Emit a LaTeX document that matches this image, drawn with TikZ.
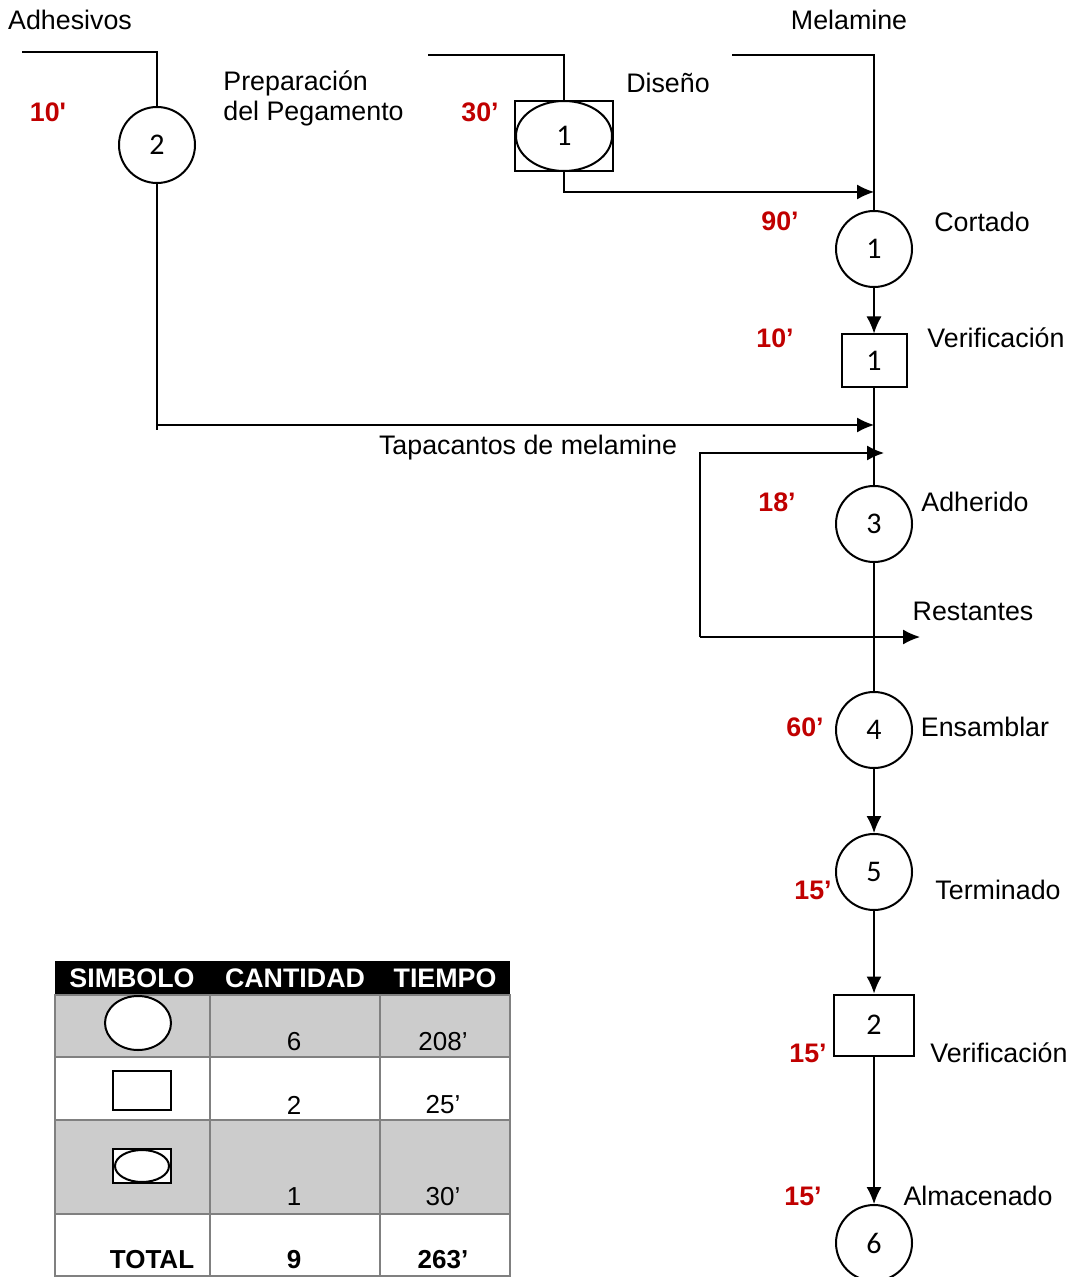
\documentclass[tikz,border=0pt]{standalone}
\usepackage{fontspec}
\setmainfont{Liberation Sans}
\newfontfamily\numfont{Carlito}
\usetikzlibrary{arrows.meta,shapes.geometric}
\definecolor{tred}{HTML}{C00000}
\definecolor{tgray}{HTML}{CCCCCC}
\definecolor{tline}{HTML}{808080}
\tikzset{
  proc/.style={circle,draw,line width=1pt,minimum size=38pt,inner sep=0pt,font=\numfont\fontsize{15}{17}\selectfont},
  insp/.style={rectangle,draw,line width=1pt,inner sep=0pt,font=\numfont\fontsize{15}{17}\selectfont},
  lbl/.style={inner sep=0pt,font=\fontsize{13.4}{15}\selectfont},
  tiempo/.style={inner sep=0pt,text=tred,font=\bfseries\fontsize{13.4}{15}\selectfont},
  flujo/.style={line width=0.7pt},
  flecha/.style={flujo,-{Latex[length=8.5pt,width=7.5pt]}},
  head/.style={inner sep=0pt,text=white,font=\bfseries\fontsize{13.4}{15}\selectfont},
  celda/.style={inner sep=0pt,font=\fontsize{13}{15}\selectfont},
}
\begin{document}
\begin{tikzpicture}[x=0.5pt,y=-0.5pt]
\useasboundingbox (0,0) rectangle (1075,1277);
% operaciones
\node[proc] (p2) at (157,145) {2};
\node[insp,minimum width=49pt,minimum height=35pt] (d1) at (564,136) {};
\node[ellipse,draw,line width=1pt,minimum width=48pt,minimum height=35pt,inner sep=0pt,font=\numfont\fontsize{15}{17}\selectfont] (d1e) at (d1) {1};
\node[proc] (c1) at (874,249) {1};
\node[insp,minimum width=32.5pt,minimum height=26.5pt] (v1) at (874,361) {1};
\node[proc] (c3) at (874,524) {3};
\node[proc] (c4) at (874,730) {4};
\node[proc] (c5) at (874,872) {5};
\node[insp,minimum width=40pt,minimum height=30.5pt] (v2) at (874,1025) {2};
\node[proc] (c6) at (874,1243) {6};
% textos
\node[lbl] (adh) at (70,20) {Adhesivos};
\node[lbl] (mel) at (849,20) {Melamine};
\node[lbl,anchor=west,align=left,font=\fontsize{13.4}{15}\selectfont] (prep) at (223,98) {Preparación\\del Pegamento};
\node[lbl] (dis) at (668,83) {Diseño};
\node[lbl] (cort) at (982,222) {Cortado};
\node[lbl] (ver1) at (996,338) {Verificación};
\node[lbl] (tapa) at (528,448) {Tapacantos de melamine};
\node[lbl] (adher) at (975,502) {Adherido};
\node[lbl] (rest) at (973,611) {Restantes};
\node[lbl] (ens) at (985,727) {Ensamblar};
\node[lbl] (term) at (998,890) {Terminado};
\node[lbl] (ver2) at (999,1053) {Verificación};
\node[lbl] (alm) at (978,1196) {Almacenado};
\node[tiempo] (t1) at (48,112) {10\textquotesingle};
\node[tiempo] (t2) at (480,112) {30’};
\node[tiempo] (t3) at (780,221) {90’};
\node[tiempo] (t4) at (775,338) {10’};
\node[tiempo] (t5) at (777,502) {18’};
\node[tiempo] (t6) at (805,727) {60’};
\node[tiempo] (t7) at (813,890) {15’};
\node[tiempo] (t8) at (808,1053) {15’};
\node[tiempo] (t9) at (803,1196) {15’};
% flujo
\coordinate (adhIn) at (22,52);
\coordinate (disIn) at (428,55);
\coordinate (melIn) at (732,55);
\coordinate (cortIn) at (874,192);
\coordinate (pegEnd) at (874,425);
\coordinate (pegTick) at (157,430);
\coordinate (tapL) at (700,637);
\coordinate (tapEnd) at (884,453);
\coordinate (restEnd) at (920,637);
\draw[flujo] (adhIn) -| (p2.north);
\draw[flecha] (p2.south) |- (pegEnd);
\draw[flujo] (p2.south) -- (pegTick);
\draw[flujo] (disIn) -| (d1.north);
\draw[flecha] (d1.south) |- (cortIn);
\draw[flujo] (melIn) -| (c1.north);
\draw[flecha] (c1) -- (v1);
\draw[flujo] (v1) -- (c3);
\draw[flecha] (tapL) |- (tapEnd);
\draw[flecha] (tapL) -- (restEnd);
\draw[flujo] (c3) -- (c4);
\draw[flecha] (c4) -- (c5);
\draw[flecha] (c5) -- (v2);
\draw[flecha] (v2) -- (c6);
% tabla resumen
\fill[black] (55,961) rectangle (510,995);
\fill[tgray] (55,995) rectangle (510,1057);
\fill[tgray] (55,1120) rectangle (510,1214);
\draw[tline,line width=1pt] (55,995) rectangle (510,1276);
\draw[tline,line width=1pt] (55,1057) -- (510,1057) (55,1120) -- (510,1120) (55,1214) -- (510,1214);
\draw[tline,line width=1pt] (210,995) -- (210,1276) (380,995) -- (380,1276);
\node[head] (hs) at (132,978) {SIMBOLO};
\node[head] (hc) at (295,978) {CANTIDAD};
\node[head] (ht) at (445,978) {TIEMPO};
\node[ellipse,draw,fill=white,line width=1pt,minimum width=33pt,minimum height=27pt] (sop) at (138,1023) {};
\node[rectangle,draw,fill=white,line width=1pt,minimum width=29pt,minimum height=19.5pt] (sins) at (142,1090) {};
\node[rectangle,draw,fill=white,line width=1pt,minimum width=29pt,minimum height=17pt] (scomb) at (142,1166) {};
\node[ellipse,draw,fill=white,line width=1pt,minimum width=27pt,minimum height=16pt,inner sep=0pt] (scombe) at (scomb) {};
\node[celda] (n1) at (294,1042) {6};
\node[celda] (m1) at (443,1042) {208’};
\node[celda] (n2) at (294,1105) {2};
\node[celda] (m2) at (443,1105) {25’};
\node[celda] (n3) at (294,1197) {1};
\node[celda] (m3) at (443,1197) {30’};
\node[celda,font=\bfseries\fontsize{13}{15}\selectfont] (tot) at (152,1260) {TOTAL};
\node[celda,font=\bfseries\fontsize{13}{15}\selectfont] (n4) at (294,1260) {9};
\node[celda,font=\bfseries\fontsize{13}{15}\selectfont] (m4) at (443,1260) {263’};
\end{tikzpicture}
\end{document}
